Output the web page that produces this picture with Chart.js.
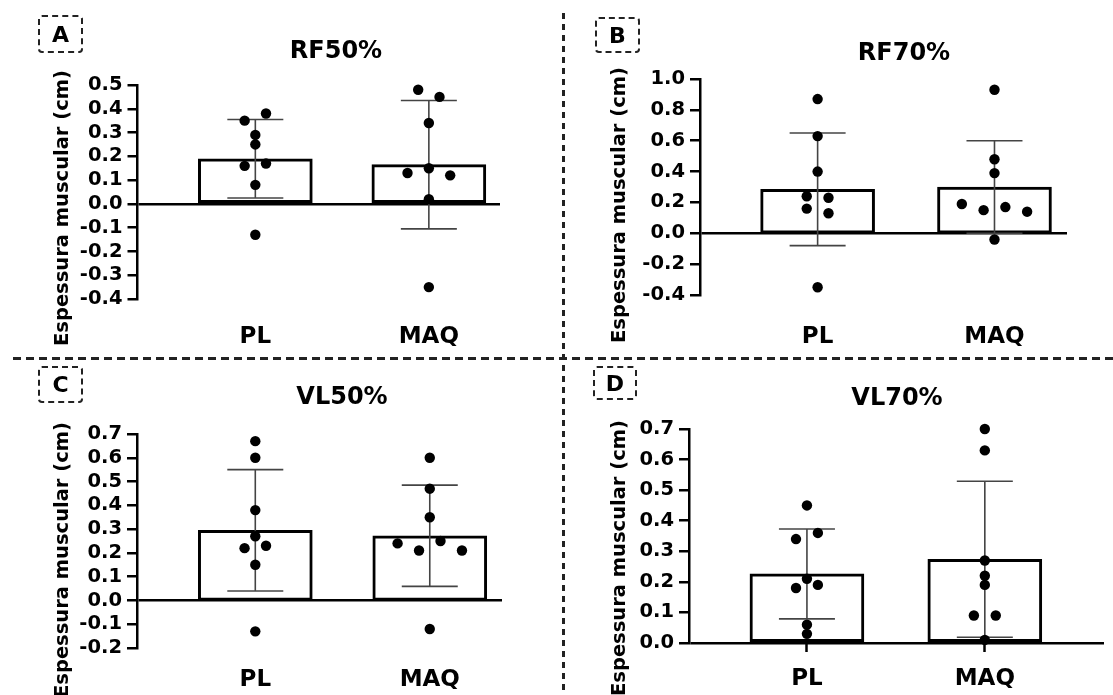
<!DOCTYPE html>
<html>
<head>
<meta charset="utf-8">
<script src="https://cdn.jsdelivr.net/npm/chart.js@4.4.1/dist/chart.umd.min.js"></script>
<style>
  body { margin: 0; background: #fff; font-family: 'DejaVu Sans', sans-serif; font-weight: bold; color: #000; }
  #page { position: relative; width: 1113px; height: 695px; overflow: hidden; }
  canvas { position: absolute; }
  .title { position: absolute; font-size: 24px; transform: translate(-50%, -50%); white-space: nowrap; }
  .ytitle { position: absolute; font-size: 19.5px; white-space: nowrap; transform: translate(-50%, -50%) rotate(-90deg); }
  .letter { position: absolute; border: 2.5px dashed #222; border-radius: 4px; box-sizing: border-box;
            font-size: 22px; display: flex; align-items: center; justify-content: center; }
  .hline { position: absolute; left: 13px; top: 357px; width: 1100px; height: 2.5px;
           background: repeating-linear-gradient(to right, #222 0 8px, transparent 8px 13px); }
  .vline { position: absolute; left: 562px; top: 13px; width: 2.5px; height: 682px;
           background: repeating-linear-gradient(to bottom, #222 0 6px, transparent 6px 11px); }
</style>
</head>
<body>
<div id="page">
  <canvas id="cA" width="556" height="350" style="left:0;top:0"></canvas>
  <canvas id="cB" width="553" height="350" style="left:560px;top:0"></canvas>
  <canvas id="cC" width="556" height="335" style="left:0;top:360px"></canvas>
  <canvas id="cD" width="575" height="335" style="left:560px;top:360px"></canvas>

  <div class="hline"></div>
  <div class="vline"></div>

  <div class="letter" style="left:38px;top:15px;width:45px;height:38px">A</div>
  <div class="letter" style="left:595px;top:17px;width:45px;height:36px">B</div>
  <div class="letter" style="left:38px;top:366px;width:45px;height:37px">C</div>
  <div class="letter" style="left:593px;top:366px;width:44px;height:34px">D</div>

  <div class="title" style="left:336px;top:50px">RF50%</div>
  <div class="title" style="left:904px;top:52px">RF70%</div>
  <div class="title" style="left:342px;top:396px">VL50%</div>
  <div class="title" style="left:897px;top:397px">VL70%</div>

  <div class="ytitle" style="left:61px;top:208px">Espessura muscular (cm)</div>
  <div class="ytitle" style="left:618px;top:205px">Espessura muscular (cm)</div>
  <div class="ytitle" style="left:61px;top:560px">Espessura muscular (cm)</div>
  <div class="ytitle" style="left:618px;top:558px">Espessura muscular (cm)</div>
</div>

<script>
const groups = ['PL', 'MAQ'];

// individual values per group
const rf50PL  = [0.35, 0.38, 0.29, 0.25, 0.16, 0.17, 0.08, -0.13];
const rf50MAQ = [0.48, 0.45, 0.34, 0.13, 0.15, 0.12, 0.02, -0.35];
const rf50Mean = [0.19, 0.165];
const rf50Sd   = [0.165, 0.27];

const rf70PL  = [0.87, 0.63, 0.40, 0.24, 0.23, 0.16, 0.13, -0.35];
const rf70MAQ = [0.93, 0.48, 0.39, 0.19, 0.15, 0.17, 0.14, -0.04];
const rf70Mean = [0.285, 0.30];
const rf70Sd   = [0.365, 0.30];

const vl50PL  = [0.67, 0.60, 0.38, 0.27, 0.22, 0.23, 0.15, -0.13];
const vl50MAQ = [0.60, 0.47, 0.35, 0.24, 0.21, 0.25, 0.21, -0.12];
const vl50Mean = [0.295, 0.272];
const vl50Sd   = [0.255, 0.213];

const vl70PL  = [0.45, 0.34, 0.36, 0.21, 0.18, 0.19, 0.06, 0.03];
const vl70MAQ = [0.70, 0.63, 0.27, 0.22, 0.19, 0.09, 0.09, 0.01];
const vl70Mean = [0.226, 0.274];
const vl70Sd   = [0.147, 0.255];

Chart.defaults.font.family = "'DejaVu Sans', sans-serif";
Chart.defaults.font.weight = 'bold';
Chart.defaults.color = '#000';

const SLOT = 0.123;

// spread dots of similar value sideways, like a scatter dot plot
function spread(vals, x, thr) {
  const out = [];
  let i = 0;
  while (i < vals.length) {
    let j = i + 1;
    while (j < vals.length && Math.abs(vals[j] - vals[i]) <= thr) j++;
    const n = j - i;
    for (let k = i; k < j; k++) out.push({ x: x + (k - i - (n - 1) / 2) * SLOT, y: vals[k] });
    i = j;
  }
  return out;
}

function errBar(x, m, s) {
  return {
    type: 'line',
    data: [{ x: x, y: m - s }, { x: x, y: m + s }],
    borderColor: '#444', borderWidth: 1.6,
    pointStyle: 'line', pointRadius: 28, pointHoverRadius: 28,
    pointBorderColor: '#444', pointBorderWidth: 1.6,
    clip: false, order: 2
  };
}

function panel(id, p) {
  const thr = (p.ymax - p.ymin) * 0.037;
  new Chart(document.getElementById(id), {
    type: 'bar',
    data: {
      datasets: [
        {
          type: 'bar',
          data: [{ x: 1, y: p.mean[0] }, { x: 2, y: p.mean[1] }],
          backgroundColor: '#fff', borderColor: '#000', borderWidth: 3,
          borderSkipped: false, barThickness: 114, order: 3
        },
        errBar(1, p.mean[0], p.sd[0]),
        errBar(2, p.mean[1], p.sd[1]),
        {
          type: 'scatter',
          data: spread(p.pl, 1, thr).concat(spread(p.maq, 2, thr)),
          backgroundColor: '#000', borderWidth: 0, pointRadius: 5.2, pointHoverRadius: 5.2,
          clip: false, order: 1
        }
      ]
    },
    options: {
      responsive: false,
      animation: false,
      layout: { padding: p.pad },
      plugins: { legend: { display: false }, tooltip: { enabled: false } },
      scales: {
        x: {
          type: 'linear', min: p.xmin, max: p.xmax, offset: false,
          border: { display: false },
          grid: p.xticks
            ? { display: true, offset: false, drawOnChartArea: false, drawTicks: true, tickLength: 9,
                color: 'rgba(0,0,0,0)', tickColor: '#000', tickWidth: 2.5 }
            : { display: false, offset: false },
          afterBuildTicks: axis => { axis.ticks = groups.map((g, i) => ({ value: i + 1 })); },
          afterFit: axis => { axis.height = p.xh; },
          ticks: {
            padding: p.labelPad, font: { size: 23, weight: 'bold' }, maxRotation: 0,
            callback: v => groups[v - 1] || ''
          }
        },
        y: {
          min: p.ymin, max: p.ymax,
          border: { display: true, color: '#000', width: 2.5 },
          grid: {
            color: c => (c.tick && Math.abs(c.tick.value) < 1e-9) ? '#000' : 'rgba(0,0,0,0)',
            lineWidth: 2.5, tickColor: '#000', tickWidth: 2.5, tickLength: 10
          },
          afterFit: axis => { axis.width = 60; },
          ticks: {
            stepSize: p.step, autoSkip: false, padding: 5, font: { size: 19.5, weight: 'bold' },
            callback: v => (Math.abs(v) < 1e-9 ? 0 : v).toFixed(1)
          }
        }
      }
    }
  });
}

panel('cA', { pl: rf50PL, maq: rf50MAQ, mean: rf50Mean, sd: rf50Sd,
  ymin: -0.4, ymax: 0.5, step: 0.1, xmin: 0.321, xmax: 2.41,
  pad: { left: 77.5, right: 56, top: 85, bottom: 0 }, xh: 51, labelPad: 16, xticks: false });

panel('cB', { pl: rf70PL, maq: rf70MAQ, mean: rf70Mean, sd: rf70Sd,
  ymin: -0.4, ymax: 1.0, step: 0.2, xmin: 0.335, xmax: 2.41,
  pad: { left: 80, right: 46, top: 79, bottom: 0 }, xh: 55, labelPad: 20, xticks: false });

panel('cC', { pl: vl50PL, maq: vl50MAQ, mean: vl50Mean, sd: vl50Sd,
  ymin: -0.2, ymax: 0.7, step: 0.1, xmin: 0.322, xmax: 2.414,
  pad: { left: 77, right: 54, top: 74, bottom: 0 }, xh: 47, labelPad: 10, xticks: false });

panel('cD', { pl: vl70PL, maq: vl70MAQ, mean: vl70Mean, sd: vl70Sd,
  ymin: 0, ymax: 0.7, step: 0.1, xmin: 0.337, xmax: 2.67,
  pad: { left: 69, right: 31, top: 69, bottom: 0 }, xh: 52, labelPad: 13, xticks: true });
</script>
</body>
</html>
